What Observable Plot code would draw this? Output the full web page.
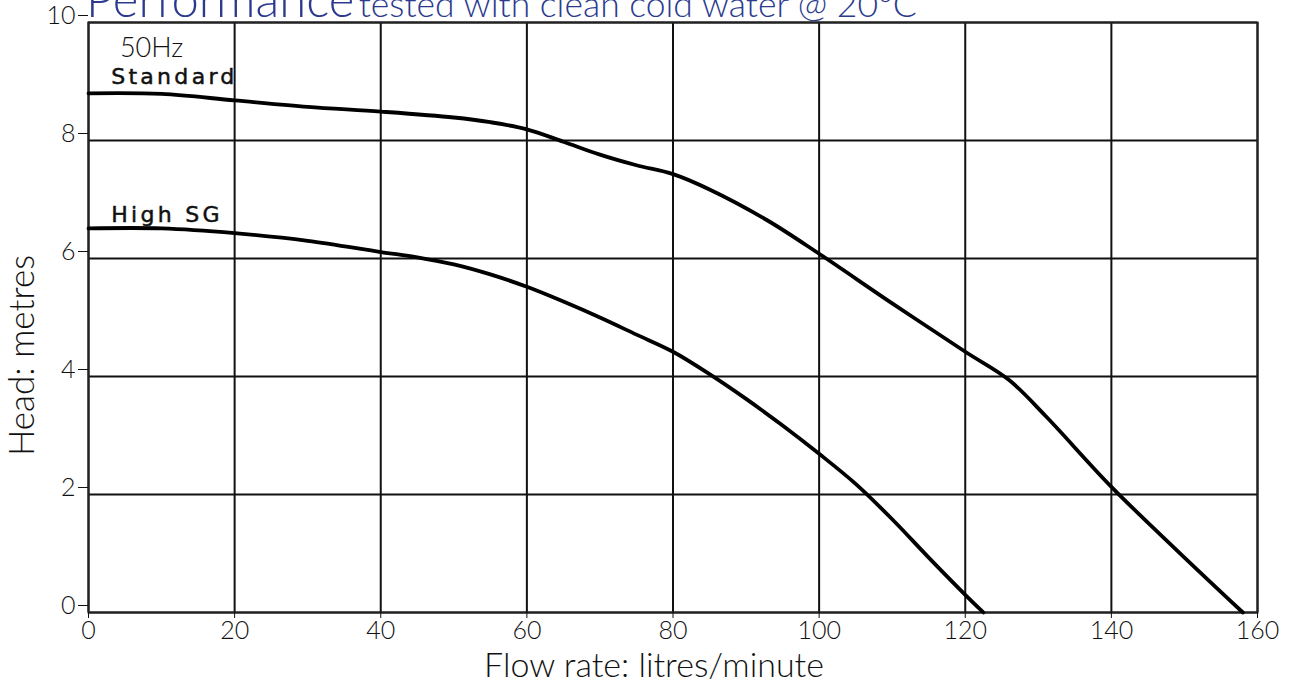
<!DOCTYPE html>
<html>
<head>
<meta charset="utf-8">
<script src="https://cdn.jsdelivr.net/npm/d3@7"></script>
<script src="https://cdn.jsdelivr.net/npm/@observablehq/plot@0.6"></script>
<style>
  html, body { margin: 0; padding: 0; background: #fff; overflow: hidden; }
  #wrap { position: relative; width: 1293px; height: 691px; }
  #title { position: absolute; left: 86px; top: -31px; color: #2b3a8f; font-family: "Lato", "Open Sans", sans-serif; font-weight: 300; white-space: nowrap; z-index: 2; line-height: 1.2; }
  #title .big { font-size: 49px; }
  #title .small { font-size: 35.5px; }
</style>
</head>
<body>
<div id="wrap">
  <div id="title"><span class="big">Performance</span> <span class="small">tested with clean cold water @ 20°C</span></div>
  <div id="chart"></div>
</div>
<script>
// Standard curve (flow l/min, head m)
const standardFlow = [0, 10, 20, 30, 40, 50, 55, 60, 65, 70, 75, 80, 85, 93, 100, 110, 120, 126, 131, 140, 149, 158];
const standardHead = [8.80, 8.79, 8.68, 8.57, 8.49, 8.39, 8.31, 8.19, 7.98, 7.76, 7.58, 7.43, 7.17, 6.64, 6.08, 5.24, 4.42, 3.94, 3.33, 2.13, 1.05, 0];
// High SG curve
const highFlow = [0, 10, 20, 30, 40, 45, 50, 55, 60, 65, 70, 75, 80, 85, 90, 95, 100, 105, 110, 115, 120, 122.5];
const highHead = [6.51, 6.51, 6.43, 6.30, 6.11, 6.02, 5.90, 5.73, 5.52, 5.27, 5.00, 4.71, 4.42, 4.04, 3.62, 3.17, 2.69, 2.18, 1.58, 0.93, 0.30, 0];
// Ticks
const xTicks = [0, 20, 40, 60, 80, 100, 120, 140, 160];
const yTicks = [0, 2, 4, 6, 8, 10];
// Annotations
const labelText = ["50Hz", "Standard", "High SG"];
const labelX = [4.3, 3.1, 3.1];
const labelY = [9.56, 9.07, 6.73];
const xAxisTitle = ["Flow rate: litres/minute"];
const yAxisTitle = ["Head: metres"];

const standard = standardFlow.map((x, i) => ({x, y: standardHead[i]}));
const highSG = highFlow.map((x, i) => ({x, y: highHead[i]}));
const labels = labelText.map((t, i) => ({t, x: labelX[i], y: labelY[i]}));

const axisFont = "'Lato', 'Open Sans', sans-serif";

const chart = Plot.plot({
  width: 1293,
  height: 691,
  marginLeft: 88,
  marginRight: 36,
  marginTop: 22,
  marginBottom: 79,
  style: { fontFamily: axisFont, fontSize: "24px", color: "#111", background: "transparent" },
  x: { domain: [0, 160] },
  y: { domain: [0, 10] },
  marks: [
    Plot.gridX(xTicks, { stroke: "#111", strokeOpacity: 1, strokeWidth: 2 }),
    Plot.gridY(yTicks, { stroke: "#111", strokeOpacity: 1, strokeWidth: 2 }),
    Plot.frame({ stroke: "#222", strokeWidth: 2 }),
    Plot.axisX({ ticks: xTicks, tickSize: 6, tickPadding: 3, fontSize: 25, fontWeight: 300, label: null }),
    Plot.axisY({ ticks: yTicks, tickSize: 10, tickPadding: 3, fontSize: 25, fontWeight: 300, dy: -7, label: null }),
    Plot.text(xAxisTitle, { frameAnchor: "bottom", textAnchor: "middle", lineAnchor: "middle", dx: -19, dy: 54, text: d => d, fontSize: 34, fontWeight: 300, fill: "#111" }),
    Plot.text(yAxisTitle, { frameAnchor: "left", textAnchor: "middle", lineAnchor: "middle", dx: -66, dy: 38, text: d => d, rotate: -90, fontSize: 35, fontWeight: 300, fill: "#111" }),
    Plot.line(standard, { x: "x", y: "y", curve: "catmull-rom", stroke: "#000", strokeWidth: 3.8 }),
    Plot.line(highSG, { x: "x", y: "y", curve: "catmull-rom", stroke: "#000", strokeWidth: 3.8 }),
    Plot.text(labels.slice(0, 1), { x: "x", y: "y", text: "t", textAnchor: "start", fontSize: 27, fontWeight: 300, fill: "#111", fontFamily: axisFont }),
    Plot.text(labels.slice(1), { x: "x", y: "y", text: "t", textAnchor: "start", fontSize: 22, fontWeight: 400, fill: "#111", stroke: "#111", strokeWidth: 0.5, fontFamily: "'DejaVu Sans', sans-serif" })
  ]
});
d3.select(chart).selectAll("text")
  .filter(function () { return this.textContent === "Standard" || this.textContent === "High SG"; })
  .attr("letter-spacing", "3.3px");
document.getElementById("chart").appendChild(chart);
</script>
</body>
</html>
